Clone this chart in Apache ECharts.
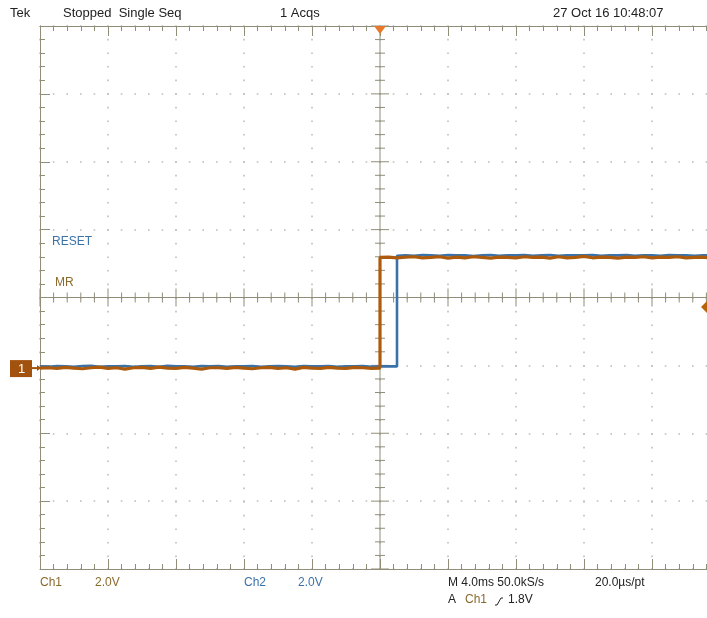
<!DOCTYPE html>
<html>
<head>
<meta charset="utf-8">
<title>Tek – RESET / MR</title>
<script src="https://cdn.jsdelivr.net/npm/echarts@6/dist/echarts.min.js"></script>
<style>
  html, body { margin: 0; padding: 0; background: #ffffff; }
  #scope { width: 707px; height: 618px; }
</style>
</head>
<body>
<div id="scope"></div>
<script>
// Horizontal: 4.0 ms/div, trigger at centre. Vertical: 8 divisions, both channels 2.0 V/div.
const timeRange = [-20, 20];        // ms
const timePerDiv = 4;               // ms/div
const divRange = [-4, 4];           // vertical divisions
const voltsPerDiv = { ch1: 2.0, ch2: 2.0 };
const groundDiv = { ch1: -1.04, ch2: -1.04 };   // channel ground marker position (div)
const triggerLevel = 1.8;           // V on Ch1

// Ch1 (MR) samples, ms / V
const ch1Time = [
  -20, -19.5, -19, -18.5, -18, -17.5, -17, -16.5, -16, -15.5, -15, -14.5, -14, -13.5,
  -13, -12.5, -12, -11.5, -11, -10.5, -10, -9.5, -9, -8.5, -8, -7.5, -7, -6.5, -6,
  -5.5, -5, -4.5, -4, -3.5, -3, -2.5, -2, -1.5, -1, -0.5, 0,
  0, 0.5, 1, 1.5, 2, 2.5, 3, 3.5, 4, 4.5, 5, 5.5, 6, 6.5, 7, 7.5, 8, 8.5, 9, 9.5,
  10, 10.5, 11, 11.5, 12, 12.5, 13, 13.5, 14, 14.5, 15, 15.5, 16, 16.5, 17, 17.5,
  18, 18.5, 19, 19.5, 20
];
const ch1Volt = [
  0.00, 0.01, -0.01, 0.02, 0.00, -0.02, 0.01, 0.03, -0.01, 0.01, -0.03, 0.01, 0.02, -0.01,
  0.03, 0.00, -0.01, 0.02, 0.00, -0.03, 0.01, 0.01, -0.01, 0.02, 0.00, -0.02, 0.01, 0.02,
  -0.01, 0.01, -0.03, 0.02, 0.00, -0.01, 0.02, 0.00, -0.01, 0.02, 0.01, -0.01, 0.00,
  3.26, 3.27, 3.25, 3.27, 3.28, 3.25, 3.26, 3.28, 3.24, 3.27, 3.25, 3.28, 3.26, 3.24,
  3.27, 3.26, 3.25, 3.28, 3.26, 3.27, 3.24, 3.28, 3.25, 3.26, 3.29, 3.25, 3.27, 3.26,
  3.24, 3.27, 3.26, 3.28, 3.25, 3.27, 3.26, 3.28, 3.25, 3.26, 3.27, 3.24, 3.26
];

// Ch2 (RESET) samples, ms / V
const ch2Time = [
  -20, -19.5, -19, -18.5, -18, -17.5, -17, -16.5, -16, -15.5, -15, -14.5, -14, -13.5,
  -13, -12.5, -12, -11.5, -11, -10.5, -10, -9.5, -9, -8.5, -8, -7.5, -7, -6.5, -6,
  -5.5, -5, -4.5, -4, -3.5, -3, -2.5, -2, -1.5, -1, -0.5, 0, 0.5, 1,
  1, 1.5, 2, 2.5, 3, 3.5, 4, 4.5, 5, 5.5, 6, 6.5, 7, 7.5, 8, 8.5, 9, 9.5,
  10, 10.5, 11, 11.5, 12, 12.5, 13, 13.5, 14, 14.5, 15, 15.5, 16, 16.5, 17, 17.5,
  18, 18.5, 19, 19.5, 20
];
const ch2Volt = [
  0.05, 0.04, 0.06, 0.05, 0.04, 0.06, 0.07, 0.04, 0.05, 0.05, 0.06, 0.04, 0.05, 0.06,
  0.04, 0.07, 0.05, 0.05, 0.04, 0.06, 0.05, 0.06, 0.04, 0.05, 0.05, 0.06, 0.04, 0.05,
  0.06, 0.05, 0.04, 0.06, 0.05, 0.05, 0.06, 0.04, 0.05, 0.05, 0.06, 0.04, 0.05, 0.05, 0.05,
  3.31, 3.32, 3.31, 3.33, 3.32, 3.31, 3.33, 3.32, 3.32, 3.30, 3.32, 3.33, 3.31, 3.32,
  3.32, 3.33, 3.31, 3.32, 3.33, 3.31, 3.32, 3.32, 3.32, 3.33, 3.31, 3.32, 3.32, 3.33,
  3.31, 3.32, 3.32, 3.31, 3.33, 3.32, 3.32, 3.31, 3.32, 3.32, 3.32
];

// Readouts
const headerTexts = ['Tek', 'Stopped  Single Seq', '1 Acqs', '27 Oct 16 10:48:07'];
const channelNames = { ch1: 'MR', ch2: 'RESET' };
const scaleTexts = ['Ch1', '2.0V', 'Ch2', '2.0V', 'M 4.0ms 50.0kS/s', '20.0\u00b5s/pt'];
const triggerTexts = ['A', 'Ch1', '1.8V'];

const COL_CH1 = '#ad5a0c';
const COL_CH2 = '#3a72a8';
const COL_GRAT = '#908d79';
const COL_DOT = '#bdbdbd';
const COL_TAN = '#8a6a2c';
const FONT = '"Liberation Sans", Arial, sans-serif';

function toDiv(t, v, ch) {
  return t.map((x, i) => [x, groundDiv[ch] + v[i] / voltsPerDiv[ch]]);
}

const chart = echarts.init(document.getElementById('scope'), null, { renderer: 'canvas' });

const edgeAxis = {
  type: 'value',
  axisLabel: { show: false },
  axisLine: { show: true, onZero: false, lineStyle: { color: COL_GRAT, width: 1 } },
  axisTick: { show: true, inside: true, length: 10, lineStyle: { color: COL_GRAT, width: 1 } },
  minorTick: { show: true, splitNumber: 5, length: 5, lineStyle: { color: COL_GRAT, width: 1 } },
  splitLine: { show: false }
};
const dotLine = { show: true, lineStyle: { color: COL_DOT, width: 1.6, type: [1.6, 12], dashOffset: 0.8 } };

// Centre cross with its fine ticks, plus trigger / ground markers
function graticule(params, api) {
  const [xMin, xMax] = timeRange;
  const [yMin, yMax] = divRange;
  const left = api.coord([xMin, 0])[0];
  const right = api.coord([xMax, 0])[0];
  const top = api.coord([0, yMax])[1];
  const bottom = api.coord([0, yMin])[1];
  const [cx, cy] = api.coord([0, 0]);
  const st = { stroke: COL_GRAT, lineWidth: 1 };
  const kids = [
    { type: 'line', shape: { x1: left, y1: cy, x2: right, y2: cy }, style: st },
    { type: 'line', shape: { x1: cx, y1: top, x2: cx, y2: bottom }, style: st }
  ];
  const tStep = timePerDiv / 5;
  for (let k = 0; k * tStep <= xMax - xMin + 1e-9; k++) {
    const t = xMin + k * tStep;
    const x = api.coord([t, 0])[0];
    const h = (k % 5 === 0) ? 9 : 5;
    kids.push({ type: 'line', shape: { x1: x, y1: cy - h, x2: x, y2: cy + h }, style: st });
  }
  for (let k = 0; k * 0.2 <= yMax - yMin + 1e-9; k++) {
    const d = yMin + k * 0.2;
    const y = api.coord([0, d])[1];
    const h = (k % 5 === 0) ? 9 : 5;
    kids.push({ type: 'line', shape: { x1: cx - h, y1: y, x2: cx + h, y2: y }, style: st });
  }
  // trigger position marker
  kids.push({ type: 'polygon', shape: { points: [[cx - 6, top], [cx + 6, top], [cx, top + 8]] },
    style: { fill: '#e8782a' } });
  // Ch1 ground marker
  const gy = api.coord([0, groundDiv.ch1])[1];
  kids.push({ type: 'rect', shape: { x: left - 30, y: gy - 8, width: 22, height: 17 }, style: { fill: '#a3520e' } });
  kids.push({ type: 'text', style: { text: '1', x: left - 22, y: gy + 1, fill: '#ffffff',
    font: '13px ' + FONT, verticalAlign: 'middle' } });
  kids.push({ type: 'line', shape: { x1: left - 10, y1: gy, x2: left, y2: gy }, style: { stroke: '#a3520e', lineWidth: 2 } });
  kids.push({ type: 'polygon', shape: { points: [[left - 3, gy - 3], [left + 1, gy], [left - 3, gy + 3]] }, style: { fill: '#a3520e' } });
  // trigger level marker on Ch1
  const ty = api.coord([0, groundDiv.ch1 + triggerLevel / voltsPerDiv.ch1])[1];
  const ex = api.getWidth();
  kids.push({ type: 'polygon', shape: { points: [[ex - 6, ty], [ex, ty - 6], [ex + 6, ty], [ex, ty + 6]] },
    style: { fill: '#b8640e' } });
  return { type: 'group', children: kids };
}

function txt(x, y, text, color, size) {
  return { type: 'text', left: x, top: y, z: 100,
    style: { text, fill: color, font: (size || 12) + 'px ' + FONT } };
}

chart.setOption({
  animation: false,
  backgroundColor: '#ffffff',
  grid: { left: 40, top: 26, width: 680, height: 543, outerBoundsMode: 'none', containLabel: false },
  xAxis: [
    Object.assign({}, edgeAxis, { min: timeRange[0], max: timeRange[1], interval: timePerDiv,
      position: 'bottom', splitLine: dotLine }),
    Object.assign({}, edgeAxis, { min: timeRange[0], max: timeRange[1], interval: timePerDiv,
      position: 'top' })
  ],
  yAxis: [
    Object.assign({}, edgeAxis, { min: divRange[0], max: divRange[1], interval: 1,
      position: 'left', splitLine: dotLine }),
    Object.assign({}, edgeAxis, { min: divRange[0], max: divRange[1], interval: 1,
      position: 'right' })
  ],
  series: [
    {
      type: 'custom', name: 'graticule', xAxisIndex: 0, yAxisIndex: 0, clip: false, silent: true,
      data: [0], renderItem: graticule, z: 1
    },
    {
      type: 'line', name: 'Ch2', xAxisIndex: 0, yAxisIndex: 0, data: toDiv(ch2Time, ch2Volt, 'ch2'),
      showSymbol: false, lineStyle: { color: COL_CH2, width: 2.6 }, z: 3
    },
    {
      type: 'line', name: 'Ch1', xAxisIndex: 0, yAxisIndex: 0, data: toDiv(ch1Time, ch1Volt, 'ch1'),
      showSymbol: false, lineStyle: { color: COL_CH1, width: 3.2 }, z: 4
    }
  ],
  graphic: [
    txt(10, 7, headerTexts[0], '#222222', 13),
    txt(63, 7, headerTexts[1], '#222222', 13),
    txt(280, 7, headerTexts[2], '#222222', 13),
    txt(553, 7, headerTexts[3], '#222222', 13),
    txt(52, 236, channelNames.ch2, COL_CH2, 12),
    txt(55, 277, channelNames.ch1, COL_TAN, 12),
    txt(40, 577, scaleTexts[0], COL_TAN, 12),
    txt(95, 577, scaleTexts[1], COL_TAN, 12),
    txt(244, 577, scaleTexts[2], COL_CH2, 12),
    txt(298, 577, scaleTexts[3], COL_CH2, 12),
    txt(448, 577, scaleTexts[4], '#222222', 12),
    txt(595, 577, scaleTexts[5], '#222222', 12),
    txt(448, 594, triggerTexts[0], '#222222', 12),
    txt(465, 594, triggerTexts[1], COL_TAN, 12),
    // rising-edge slope symbol
    { type: 'polyline', z: 100, shape: { points: [[495, 605], [497, 605], [501, 598], [503, 598]] },
      style: { stroke: '#222222', lineWidth: 1, fill: null } },
    txt(508, 594, triggerTexts[2], '#222222', 12)
  ]
});
</script>
</body>
</html>
